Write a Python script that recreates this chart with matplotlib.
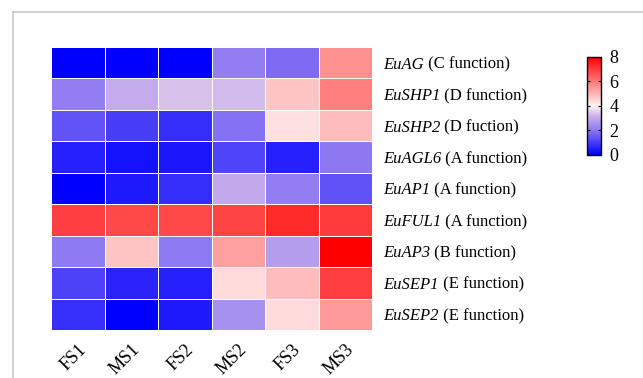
import numpy as np
import matplotlib
matplotlib.use("Agg")
import matplotlib.pyplot as plt
from matplotlib.colors import LinearSegmentedColormap
from matplotlib.lines import Line2D

plt.rcParams['font.family'] = ['Liberation Serif', 'DejaVu Serif']

samples = ['FS1', 'MS1', 'FS2', 'MS2', 'FS3', 'MS3']
genes = ['EuAG', 'EuSHP1', 'EuSHP2', 'EuAGL6', 'EuAP1', 'EuFUL1', 'EuAP3', 'EuSEP1', 'EuSEP2']
functions = ['(C function)', '(D function)', '(D fuction)', '(A function)', '(A function)',
             '(A function)', '(B function)', '(E function)', '(E function)']

# expression per gene (rows) across samples (columns)
EuAG = [0.0, 0.0, 0.0, 2.1, 1.8, 5.6]
EuSHP1 = [2.1, 3.05, 3.4, 3.3, 4.75, 5.9]
EuSHP2 = [1.4, 1.05, 0.75, 1.9, 4.3, 4.9]
EuAGL6 = [0.55, 0.3, 0.4, 1.15, 0.55, 2.0]
EuAP1 = [0.0, 0.45, 0.75, 3.0, 2.1, 1.35]
EuFUL1 = [6.95, 6.8, 6.8, 6.85, 7.3, 7.0]
EuAP3 = [2.05, 4.75, 2.05, 5.35, 2.75, 8.0]
EuSEP1 = [1.1, 0.6, 0.55, 4.4, 4.9, 6.95]
EuSEP2 = [0.8, 0.0, 0.45, 2.5, 4.4, 5.45]

data = np.array([EuAG, EuSHP1, EuSHP2, EuAGL6, EuAP1, EuFUL1, EuAP3, EuSEP1, EuSEP2])

cmap = LinearSegmentedColormap.from_list('bwr_prism', [
    (0.0, (0.0, 0.0, 1.0)),
    (0.25, (0.55, 0.47, 0.95)),
    (0.4, (0.80, 0.70, 0.92)),
    (0.5, (1.0, 0.95, 0.95)),
    (1.0, (1.0, 0.0, 0.0)),
])

fig = plt.figure(figsize=(6.43, 3.78), dpi=100)

# light gray frame
fig.add_artist(Line2D([13 / 643, 13 / 643], [0, 1 - 12 / 378], color='#c8c8c8', lw=1.2,
                      transform=fig.transFigure))
fig.add_artist(Line2D([13 / 643, 1], [1 - 12 / 378, 1 - 12 / 378], color='#c8c8c8', lw=1.2,
                      transform=fig.transFigure))

ax = fig.add_axes([51 / 643, 1 - 330 / 378, 321 / 643, 283 / 378])
mesh = ax.pcolormesh(data, cmap=cmap, vmin=0, vmax=8, edgecolors='white', linewidth=0.6)
ax.set_xlim(0, len(samples))
ax.set_ylim(len(genes), 0)
for s in ax.spines.values():
    s.set_visible(False)

ax.set_xticks(np.arange(len(samples)) + 0.5)
ax.set_xticklabels(samples, rotation=45, ha='right', va='top', rotation_mode='anchor', fontsize=13)
ax.tick_params(axis='x', length=0, pad=8)

ax.set_yticks([])
# gene names in italics, function in roman, to the right of the heatmap
for i, (g, f) in enumerate(zip(genes, functions)):
    t = ax.annotate(g, xy=(1, i + 0.5), xycoords=('axes fraction', 'data'),
                    xytext=(8, 0), textcoords='offset points', fontsize=12,
                    style='italic', ha='left', va='center_baseline')
    ax.annotate(' ' + f, xy=(1, 0.5), xycoords=t, ha='left', va='center', fontsize=12)

cax = fig.add_axes([587 / 643, 1 - 155 / 378, 14 / 643, 98 / 378])
cb = fig.colorbar(mesh, cax=cax, ticks=[0, 2, 4, 6, 8])
cb.outline.set_linewidth(1.0)
cax.tick_params(labelsize=13, length=2, width=0.8, direction='in', left=True, right=True, pad=6)

fig.savefig('out.png', dpi=100)
